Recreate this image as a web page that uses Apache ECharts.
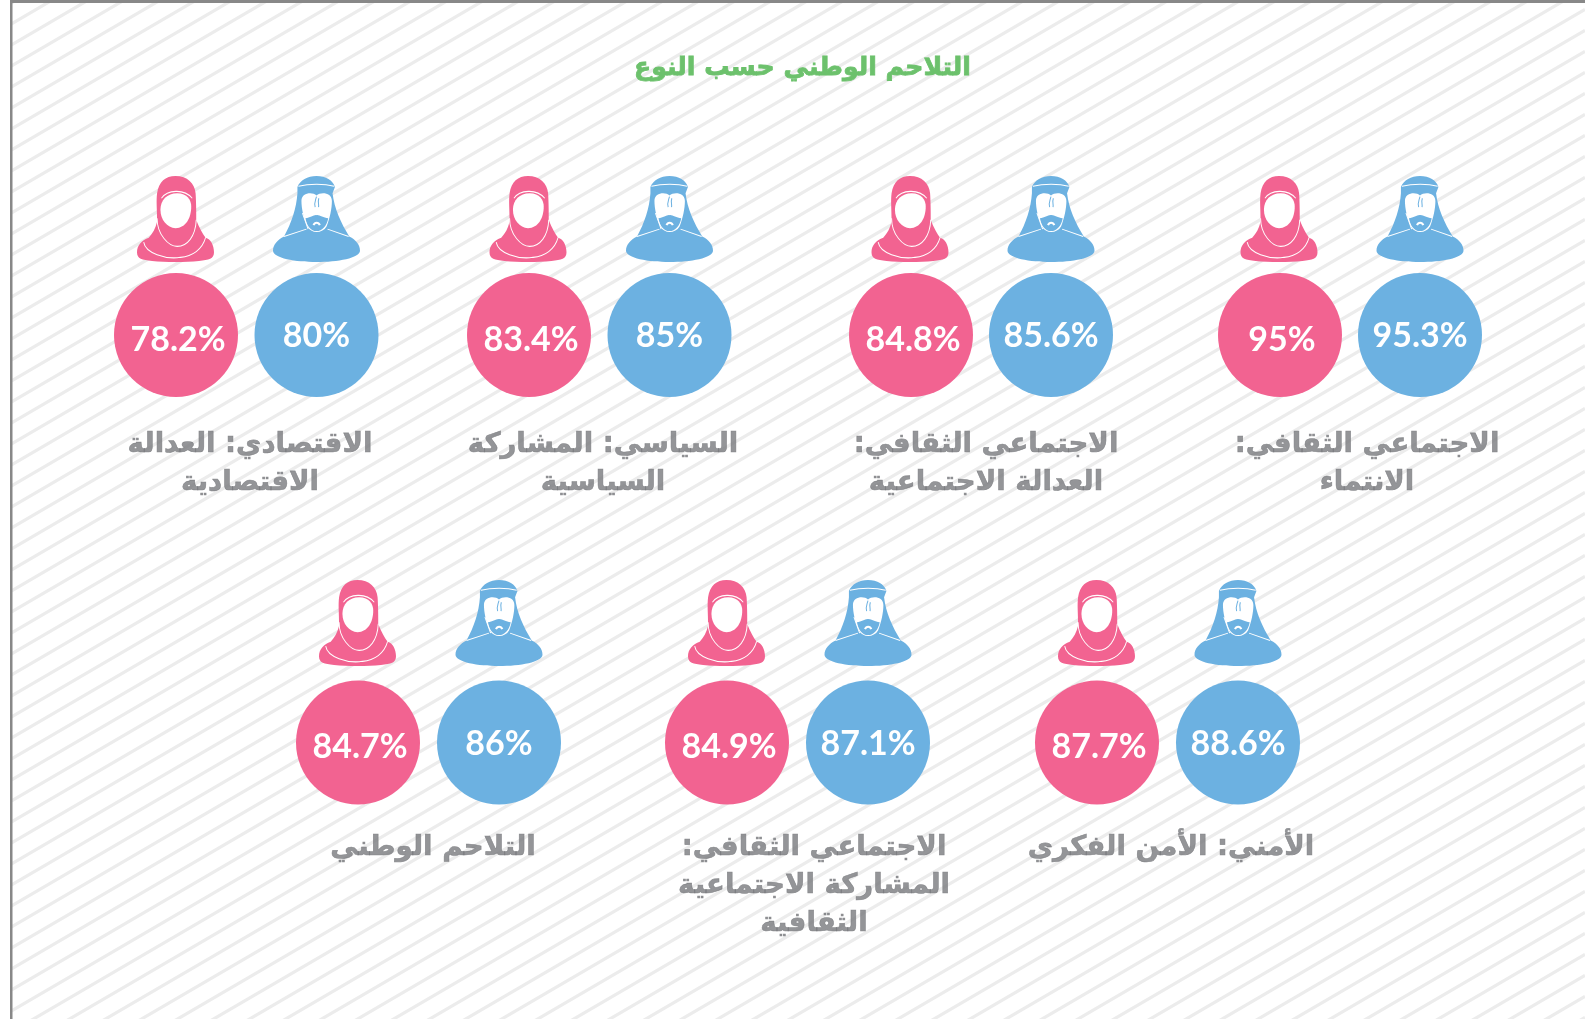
<!DOCTYPE html>
<html>
<head>
<meta charset="utf-8">
<title>chart</title>
<script src="https://cdn.jsdelivr.net/npm/echarts@6/dist/echarts.min.js"></script>
<style>
html, body { margin: 0; padding: 0; background: #fff; }
#main { width: 1585px; height: 1019px; }
</style>
</head>
<body>
<div id="main" dir="rtl"></div>
<script>
var chartTitle = 'التلاحم الوطني حسب النوع';
var categories = [
	'الاجتماعي الثقافي:\nالانتماء',
	'الاجتماعي الثقافي:\nالعدالة الاجتماعية',
	'السياسي: المشاركة\nالسياسية',
	'الاقتصادي: العدالة\nالاقتصادية',
	'الأمني: الأمن الفكري',
	'الاجتماعي الثقافي:\nالمشاركة الاجتماعية\nالثقافية',
	'التلاحم الوطني'
];
var maleValues = [95.3, 85.6, 85, 80, 88.6, 87.1, 86];
var femaleValues = [95, 84.8, 83.4, 78.2, 87.7, 84.9, 84.7];

/* layout of the infographic, in page pixels */
var maleX = [1420, 1051, 669.5, 316.5, 1238, 868, 499];
var femaleX = [1280, 911, 529, 176, 1097, 727, 358];
var femaleIconX = [1279, 910, 528, 175.5, 1096.5, 726.5, 357.5];
var labelX = [1367, 986, 603, 250, 1171, 814, 433];
var rowOf = [0, 0, 0, 0, 1, 1, 1];
var circleY = [335, 742.5];
var iconY = [219, 623];
var labelY = [426, 829];

var maleColor = '#6CB1E1';
var femaleColor = '#F26391';
var textColor = '#797b7e';
var bbox = 'M67 33L67 33M327 292L327 292';
var bboxF = 'M45 33L45 33M275 292L275 292';

var maleBody = 'path://M197 33C225 33 246 46 252 66L245 85C250 130 270 175 295 215C315 225 327 240 327 258C327 280 260 292 197 292C135 292 67 280 67 258C67 240 80 225 100 215C122 175 137 130 140 85L140 66C148 46 170 33 197 33Z';
var maleFace = 'path://' + bbox + 'M197 92C185 80 152 83 152 108C152 130 158 160 170 185C180 207 215 207 227 185C237 160 243 130 243 108C243 83 210 80 197 92Z';
var maleBeard = 'path://' + bbox + 'M164 160C178 160 190 149 197 151C205 149 217 160 232 160C228 183 214 199 197 199C180 199 168 183 164 160Z';
var maleMouth = 'path://' + bbox + 'M188 181C192 171 203 171 207 181';
var maleLines = 'path://' + bbox + 'M143 64C175 56 220 56 250 64M100 215L167 193M230 193L293 215M155 145L172 193';
var maleSlit = 'path://' + bbox + 'M197 95C193 110 189 115 193 127M204 100C200 112 205 118 203 127';
var femaleBody = 'path://M160 33C195 33 218 55 220 85C222 115 222 150 222 165C232 190 240 205 250 218C265 222 275 240 275 262C275 282 260 285 230 288C190 292 130 292 90 288C60 285 45 282 45 262C45 240 60 225 80 218C92 205 100 190 105 170C105 130 102 110 105 85C110 50 130 33 160 33Z';
var femaleFace = 'path://' + bboxF + 'M165 85C195 85 207 105 207 125C207 160 190 190 160 190C135 190 115 165 115 135C115 105 135 85 165 85Z';
var femaleLines = 'path://' + bboxF + 'M118 100C135 75 185 70 210 100M105 160C105 210 140 245 165 245C195 245 220 215 222 165M65 232C70 265 130 285 175 278C210 275 240 255 250 218';

function points(xs, ys, values) {
	return xs.map(function(x, i) {
		return [x, ys[rowOf[i]], values ? values[i] : 0];
	});
}

function iconLayer(xs, path, size, style) {
	return {
		type: 'scatter',
		silent: true,
		symbol: path,
		symbolSize: size,
		itemStyle: Object.assign({ opacity: 1 }, style),
		data: points(xs, iconY)
	};
}

function circleLayer(xs, values, color, offset) {
	return {
		type: 'scatter',
		silent: true,
		symbol: 'circle',
		symbolSize: 124,
		itemStyle: { color: color, opacity: 1 },
		label: {
			show: true,
			position: 'inside',
			offset: offset,
			color: '#fff',
			fontFamily: 'Lato',
			fontWeight: 'bold',
			fontSize: 34,
			formatter: function(p) { return p.value[2] + '%'; }
		},
		data: points(xs, circleY, values)
	};
}

var lineStyle = { color: 'transparent', borderColor: '#fff', borderWidth: 1 };
var slitStyle = { color: 'transparent', borderColor: maleColor, borderWidth: 1 };
var mouthStyle = { color: 'transparent', borderColor: '#fff', borderWidth: 2 };

/* background stripes */
var stripes = [];
for (var s = 9.5; s < 1960; s += 21) {
	stripes.push({
		type: 'line',
		silent: true,
		shape: { x1: 0, y1: s, x2: 1585, y2: s - 1585 * 0.583 },
		style: { stroke: '#ececec', lineWidth: 3.2 }
	});
}

var chart = echarts.init(document.getElementById('main'), null, { renderer: 'canvas' });
chart.setOption({
	animation: false,
	backgroundColor: '#fff',
	grid: { left: 0, right: 0, top: 0, bottom: 0 },
	xAxis: { type: 'value', min: 0, max: 1585, show: false },
	yAxis: { type: 'value', min: 0, max: 1019, inverse: true, show: false },
	title: {
		text: chartTitle,
		left: 797.5,
		top: 51,
		textAlign: 'center',
		textStyle: {
			color: '#6CC16C',
			fontFamily: 'DejaVu Sans',
			fontWeight: 'bold',
			fontSize: 25.2,
			textBorderColor: '#6CC16C',
			textBorderWidth: 0.8
		}
	},
	graphic: [{
		type: 'group',
		silent: true,
		z: -10,
		children: stripes.concat([
			{ type: 'rect', shape: { x: 0, y: 0, width: 10, height: 1019 }, style: { fill: '#fff' } },
			{ type: 'rect', shape: { x: 10, y: 0, width: 2.5, height: 1019 }, style: { fill: '#888' } },
			{ type: 'rect', shape: { x: 10, y: 0, width: 1575, height: 3 }, style: { fill: '#888' } }
		])
	}],
	series: [
		circleLayer(femaleX, femaleValues, femaleColor, [2, 5]),
		circleLayer(maleX, maleValues, maleColor, [0, 1.5]),
		iconLayer(maleX, maleBody, [87, 86], { color: maleColor }),
		iconLayer(maleX, maleFace, [87, 86], { color: '#fff' }),
		iconLayer(maleX, maleBeard, [87, 86], { color: maleColor }),
		iconLayer(maleX, maleMouth, [87, 86], mouthStyle),
		iconLayer(maleX, maleLines, [87, 86], lineStyle),
		iconLayer(maleX, maleSlit, [87, 86], slitStyle),
		iconLayer(femaleIconX, femaleBody, [77, 86], { color: femaleColor }),
		iconLayer(femaleIconX, femaleFace, [77, 86], { color: '#fff' }),
		iconLayer(femaleIconX, femaleLines, [77, 86], lineStyle),
		{
			type: 'scatter',
			silent: true,
			symbolSize: 0,
			label: {
				show: true,
				position: 'inside',
				align: 'center',
				verticalAlign: 'top',
				color: textColor,
				fontFamily: 'DejaVu Sans',
				fontWeight: 'bold',
				fontSize: 27.6,
				lineHeight: 38,
				textBorderColor: textColor,
				textBorderWidth: 0.6,
				formatter: function(p) { return categories[p.dataIndex]; }
			},
			data: points(labelX, labelY)
		}
	]
});
</script>
</body>
</html>
